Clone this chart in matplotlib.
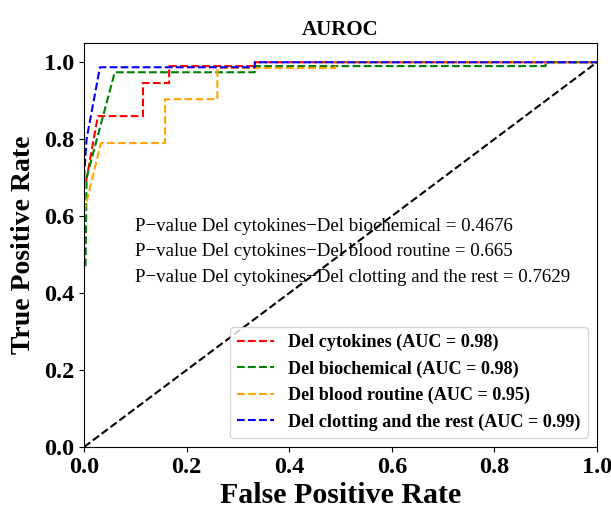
import matplotlib
matplotlib.use("Agg")
import matplotlib.pyplot as plt

plt.rcParams["font.family"] = ["Liberation Serif", "DejaVu Serif"]

# ROC curve points
red_fpr = [0.004, 0.027, 0.115, 0.115, 0.166, 0.166, 0.333, 0.333, 1.0]
red_tpr = [0.69, 0.86, 0.86, 0.946, 0.946, 0.99, 0.99, 1.0, 1.0]

green_fpr = [0.003, 0.005, 0.06, 0.333, 0.333, 0.9, 0.9, 1.0]
green_tpr = [0.47, 0.70, 0.974, 0.974, 0.99, 0.99, 1.0, 1.0]

orange_fpr = [0.0, 0.033, 0.158, 0.158, 0.26, 0.26, 0.49, 0.49, 1.0]
orange_tpr = [0.61, 0.79, 0.79, 0.904, 0.904, 0.985, 0.985, 1.0, 1.0]

blue_fpr = [0.0, 0.005, 0.031, 0.333, 0.333, 1.0]
blue_tpr = [0.70, 0.80, 0.987, 0.987, 1.0, 1.0]

labels = [
    "Del cytokines (AUC = 0.98)",
    "Del biochemical (AUC = 0.98)",
    "Del blood routine (AUC = 0.95)",
    "Del clotting and the rest (AUC = 0.99)",
]
colors = ["red", "green", "orange", "blue"]

pvalue_text = [
    "P\u2212value Del cytokines\u2212Del biochemical = 0.4676",
    "P\u2212value Del cytokines\u2212Del blood routine = 0.665",
    "P\u2212value Del cytokines\u2212Del clotting and the rest = 0.7629",
]

fig = plt.figure(figsize=(6.11, 5.09), dpi=100)
ax = fig.add_axes([0.1375, 0.1218, 0.8395, 0.7937])

curves = [(red_fpr, red_tpr), (green_fpr, green_tpr),
          (orange_fpr, orange_tpr), (blue_fpr, blue_tpr)]
for (x, y), c, lab in zip(curves, colors, labels):
    ax.plot(x, y, linestyle="--", color=c, lw=1.5, label=lab)

ax.plot([0, 1], [0, 1], linestyle="--", color="black", lw=1.5)

for i, t in enumerate(pvalue_text):
    ax.text(0.1, 0.574 - i * 0.067, t, fontsize=13.6, va="center", ha="left")

ax.set_xlim(0, 1.0)
ax.set_ylim(0, 1.05)
ax.set_xticks([0, 0.2, 0.4, 0.6, 0.8, 1.0])
ax.set_yticks([0, 0.2, 0.4, 0.6, 0.8, 1.0])
for lbl in ax.get_xticklabels() + ax.get_yticklabels():
    lbl.set_fontsize(17.5)
    lbl.set_fontweight("bold")

ax.set_xlabel("False Positive Rate", fontsize=21.5, fontweight="bold", labelpad=3)
ax.set_ylabel("True Positive Rate", fontsize=20, fontweight="bold", labelpad=6)
ax.set_title("AUROC", fontsize=15, fontweight="bold")

ax.legend(loc="lower right", prop={"weight": "bold", "size": 13.1},
          handlelength=2.0)

fig.savefig("out.png", dpi=100)
